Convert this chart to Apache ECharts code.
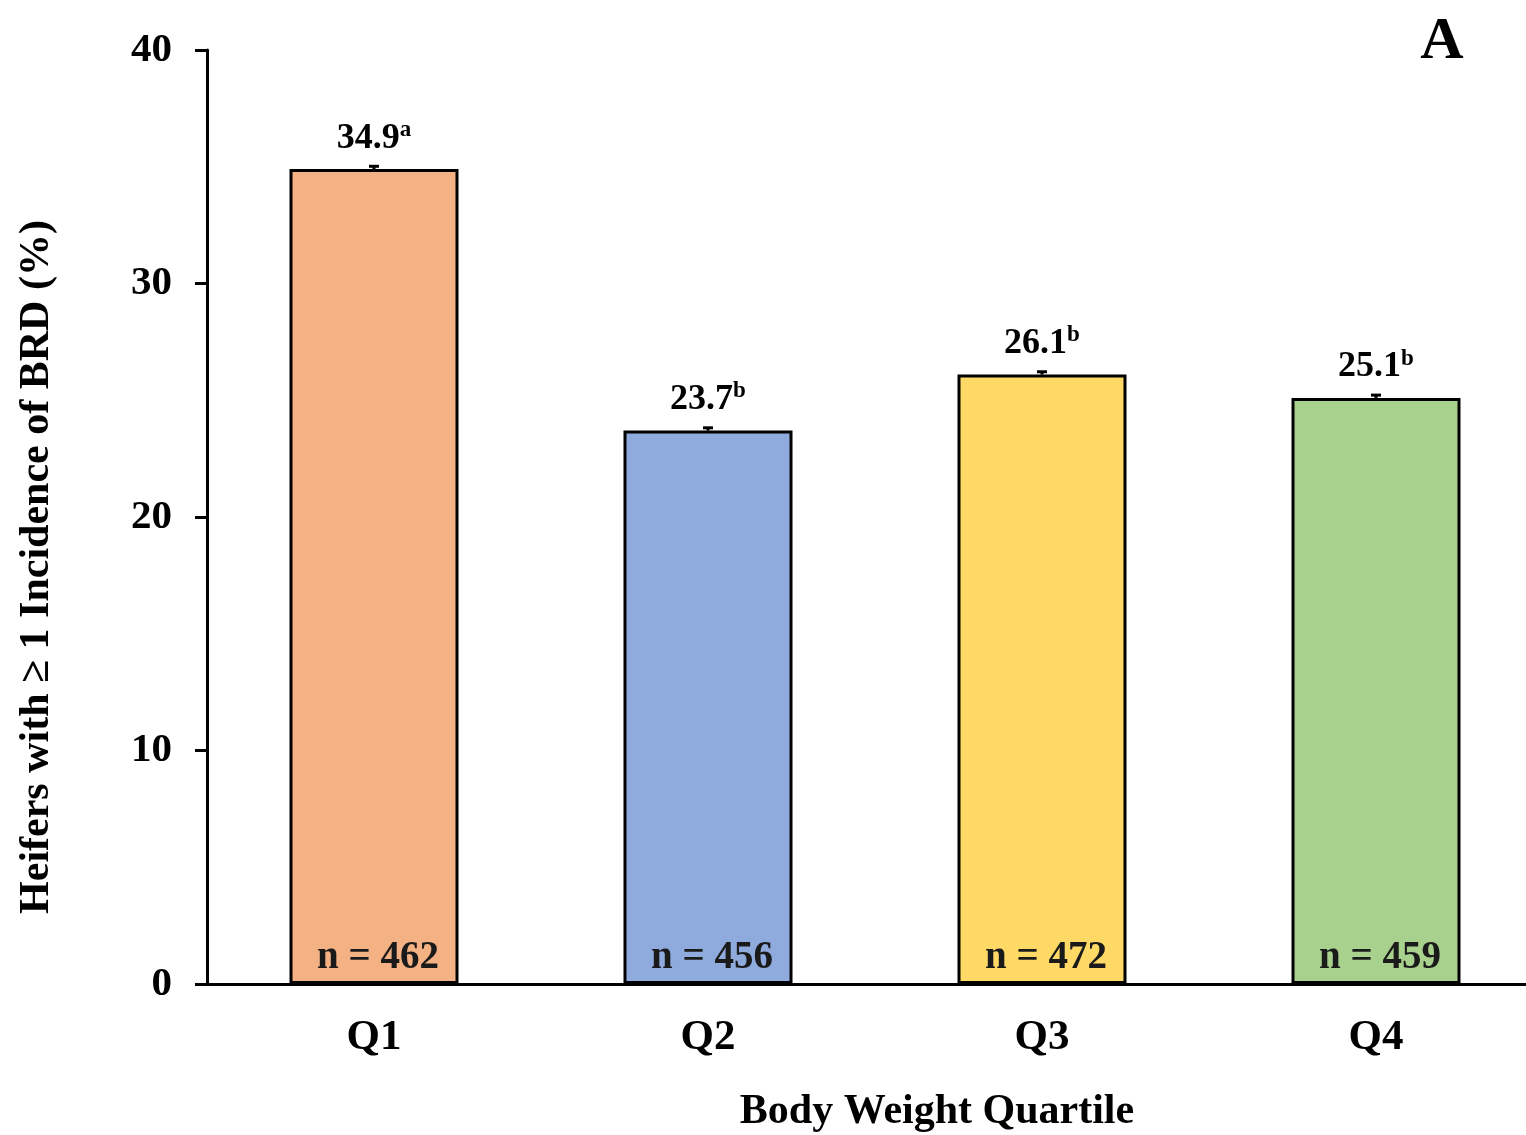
<!DOCTYPE html>
<html>
<head>
<meta charset="utf-8">
<style>
  html, body { margin: 0; padding: 0; background: #fff; }
  #chart { width: 1526px; height: 1135px; }
</style>
<script src="https://cdn.jsdelivr.net/npm/echarts@6/dist/echarts.min.js"></script>
</head>
<body>
<div id="chart"></div>
<script>
// Incidence of BRD by body weight quartile
const categories = ['Q1', 'Q2', 'Q3', 'Q4'];
const incidence = [34.9, 23.7, 26.1, 25.1];
const stdErr = [0.12, 0.12, 0.12, 0.12];
const letters = ['a', 'b', 'b', 'b'];
const counts = [462, 456, 472, 459];
const barColors = ['#F4B183', '#8FAADC', '#FFD966', '#A9D18E'];
const yTicks = [0, 10, 20, 30, 40];

const FONT = '"Liberation Serif", "Times New Roman", serif';

const chart = echarts.init(document.getElementById('chart'));

chart.setOption({
  animation: false,
  backgroundColor: '#ffffff',
  // the plot area runs past the right edge of the canvas
  grid: { left: 207, top: 50, bottom: 151, width: 1336, containLabel: false, outerBoundsMode: 'none' },
  xAxis: {
    type: 'category',
    data: categories,
    axisLine: { show: true, lineStyle: { color: '#000', width: 3 } },
    axisTick: { show: false },
    axisLabel: {
      margin: 32,
      color: '#000',
      fontFamily: FONT,
      fontWeight: 'bold',
      fontSize: 43
    }
  },
  yAxis: {
    type: 'value',
    min: yTicks[0],
    max: yTicks[yTicks.length - 1],
    interval: 10,
    splitLine: { show: false },
    axisLine: { show: true, lineStyle: { color: '#000', width: 3 } },
    axisTick: { show: true, inside: false, length: 12, lineStyle: { color: '#000', width: 3 } },
    axisLabel: {
      margin: 35,
      color: '#000',
      fontFamily: FONT,
      fontWeight: 'bold',
      fontSize: 41
    }
  },
  series: [
    {
      type: 'bar',
      barWidth: 169,
      data: incidence.map((v, i) => ({
        value: v,
        itemStyle: { color: barColors[i], borderColor: '#000', borderWidth: 3 }
      })),
      label: {
        show: true,
        position: 'insideBottom',
        distance: 7,
        offset: [4, 0],
        color: '#1a1a1a',
        fontFamily: FONT,
        fontWeight: 'bold',
        fontSize: 39,
        formatter: p => 'n = ' + counts[p.dataIndex]
      },
      z: 2
    },
    {
      // error caps and value labels with significance letters
      type: 'custom',
      data: incidence.map((v, i) => [i, v, stdErr[i]]),
      renderItem: function (params, api) {
        const i = api.value(0);
        const v = api.value(1);
        const e = api.value(2);
        const top = api.coord([i, v + e]);
        const base = api.coord([i, v]);
        const half = 5;
        return {
          type: 'group',
          children: [
            {
              type: 'line',
              shape: { x1: top[0], y1: top[1], x2: top[0], y2: base[1] },
              style: { stroke: '#000', lineWidth: 3 }
            },
            {
              type: 'line',
              shape: { x1: top[0] - half, y1: top[1], x2: top[0] + half, y2: top[1] },
              style: { stroke: '#000', lineWidth: 3 }
            },
            {
              type: 'text',
              x: top[0],
              y: top[1] - 10,
              style: {
                text: '{v|' + v.toFixed(1) + '}{s|' + letters[params.dataIndex] + '}',
                align: 'center',
                verticalAlign: 'bottom',
                rich: {
                  v: { fontFamily: FONT, fontWeight: 'bold', fontSize: 36, lineHeight: 38, fill: '#000', verticalAlign: 'bottom' },
                  s: { fontFamily: FONT, fontWeight: 'bold', fontSize: 23, lineHeight: 38, fill: '#000', verticalAlign: 'top', padding: [0, 0, 14, 0] }
                }
              }
            }
          ]
        };
      },
      z: 5
    }
  ],
  graphic: [
    {
      type: 'text',
      x: 37,
      y: 567,
      rotation: Math.PI / 2,
      style: {
        text: 'Heifers with \u2265 1 Incidence of BRD (%)',
        fontFamily: FONT,
        fontWeight: 'bold',
        fontSize: 42,
        fill: '#000',
        align: 'center',
        verticalAlign: 'middle'
      }
    },
    {
      type: 'text',
      x: 937,
      y: 1112,
      style: {
        text: 'Body Weight Quartile',
        fontFamily: FONT,
        fontWeight: 'bold',
        fontSize: 42,
        fill: '#000',
        align: 'center',
        verticalAlign: 'middle'
      }
    },
    {
      type: 'text',
      x: 1442,
      y: 42,
      style: {
        text: 'A',
        fontFamily: FONT,
        fontWeight: 'bold',
        fontSize: 60,
        fill: '#000',
        align: 'center',
        verticalAlign: 'middle'
      }
    }
  ]
});
</script>
</body>
</html>
